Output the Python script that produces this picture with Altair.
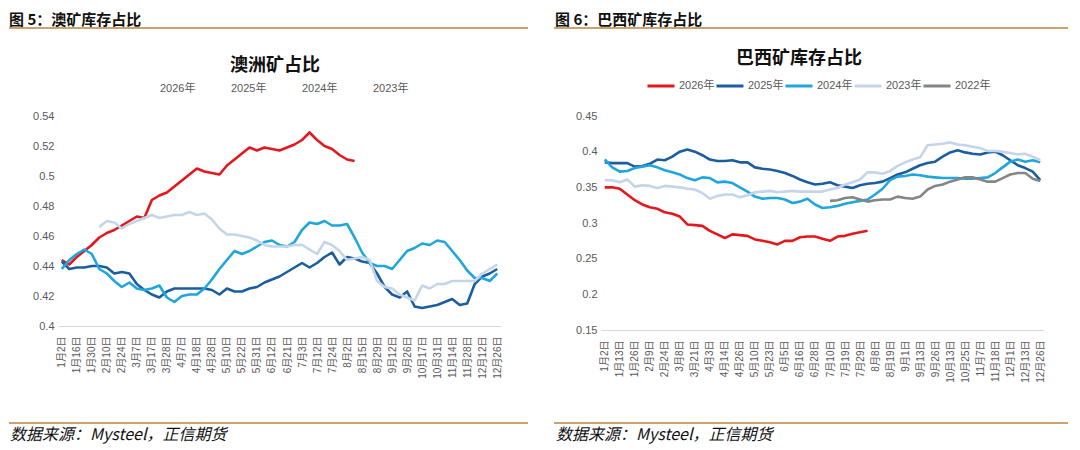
import altair as alt
import pandas as pd

# ---------------- data ----------------
x_labels_left = ["1月2日", "1月16日", "1月30日", "2月10日", "2月24日", "3月7日", "3月17日", "3月28日",
                 "4月7日", "4月18日", "4月28日", "5月10日", "5月22日", "5月31日", "6月12日", "6月21日",
                 "7月3日", "7月12日", "7月24日", "8月2日", "8月15日", "8月29日", "9月12日", "9月26日",
                 "10月17日", "10月31日", "11月14日", "11月28日", "12月12日", "12月26日"]
x_labels_right = ["1月2日", "1月13日", "1月26日", "2月9日", "2月24日", "3月8日", "3月21日", "4月3日",
                  "4月14日", "4月26日", "5月10日", "5月23日", "6月5日", "6月16日", "6月28日", "7月10日",
                  "7月19日", "7月29日", "8月8日", "8月19日", "9月1日", "9月13日", "9月26日", "10月13日",
                  "10月25日", "11月7日", "11月18日", "12月1日", "12月13日", "12月26日"]

y_ticks_left = [0.4, 0.42, 0.44, 0.46, 0.48, 0.5, 0.52, 0.54]
y_ticks_right = [0.15, 0.2, 0.25, 0.3, 0.35, 0.4, 0.45]

series_left = ["2026年", "2025年", "2024年", "2023年"]
series_right = ["2026年", "2025年", "2024年", "2023年", "2022年"]

# 澳洲矿占比
au_2026 = [0.444, 0.441, 0.446, 0.450, 0.454, 0.459, 0.462, 0.464, 0.467, 0.470,
           0.473, 0.472, 0.484, 0.487, 0.489, 0.493, 0.497, 0.501, 0.505, 0.503,
           0.502, 0.501, 0.507, 0.511, 0.515, 0.519, 0.517, 0.519, 0.518, 0.517,
           0.519, 0.521, 0.524, 0.529, 0.524, 0.520, 0.518, 0.514, 0.511, 0.510]
au_2025 = [0.443, 0.438, 0.439, 0.439, 0.440, 0.440, 0.439, 0.435, 0.436, 0.435,
           0.428, 0.424, 0.421, 0.419, 0.423, 0.425, 0.425, 0.425, 0.425, 0.425,
           0.424, 0.421, 0.425, 0.423, 0.423, 0.425, 0.426, 0.429, 0.431, 0.433,
           0.436, 0.439, 0.442, 0.439, 0.442, 0.446, 0.449, 0.441, 0.446, 0.445,
           0.443, 0.442, 0.435, 0.426, 0.421, 0.419, 0.423, 0.413, 0.412, 0.413,
           0.414, 0.416, 0.418, 0.414, 0.415, 0.428, 0.433, 0.435, 0.438]
au_2024 = [0.438, 0.444, 0.448, 0.451, 0.448, 0.438, 0.435, 0.430, 0.426, 0.429,
           0.425, 0.424, 0.425, 0.427, 0.419, 0.416, 0.420, 0.421, 0.421, 0.425,
           0.431, 0.438, 0.444, 0.450, 0.448, 0.450, 0.453, 0.456, 0.457, 0.454,
           0.453, 0.456, 0.464, 0.469, 0.468, 0.470, 0.467, 0.467, 0.468, 0.459,
           0.449, 0.442, 0.440, 0.440, 0.438, 0.444, 0.450, 0.452, 0.455, 0.454,
           0.457, 0.456, 0.450, 0.444, 0.437, 0.432, 0.432, 0.430, 0.435]
au_2023 = [None, None, None, None, None, 0.466, 0.470, 0.469, 0.465, 0.468,
           0.470, 0.472, 0.474, 0.472, 0.473, 0.474, 0.474, 0.476, 0.474, 0.475,
           0.471, 0.465, 0.461, 0.461, 0.460, 0.459, 0.457, 0.454, 0.453, 0.453,
           0.453, 0.454, 0.454, 0.451, 0.448, 0.456, 0.454, 0.450, 0.444, 0.445,
           0.446, 0.444, 0.430, 0.426, 0.425, 0.421, 0.419, 0.417, 0.427, 0.425,
           0.428, 0.428, 0.430, 0.430, 0.430, 0.430, 0.435, 0.438, 0.441]

# 巴西矿库存占比
br_2026 = [0.350, 0.350, 0.348, 0.340, 0.332, 0.326, 0.322, 0.320, 0.315, 0.313,
           0.309, 0.298, 0.297, 0.296, 0.289, 0.284, 0.279, 0.284, 0.283, 0.282,
           0.277, 0.275, 0.273, 0.270, 0.275, 0.275, 0.280, 0.281, 0.281, 0.278,
           0.275, 0.281, 0.282, 0.285, 0.287, 0.289]
br_2025 = [0.385, 0.384, 0.384, 0.384, 0.379, 0.380, 0.383, 0.389, 0.388, 0.393,
           0.400, 0.403, 0.400, 0.395, 0.389, 0.387, 0.387, 0.388, 0.385, 0.385,
           0.378, 0.376, 0.375, 0.373, 0.370, 0.366, 0.361, 0.357, 0.354, 0.355,
           0.357, 0.353, 0.351, 0.349, 0.353, 0.355, 0.356, 0.358, 0.363, 0.368,
           0.371, 0.376, 0.381, 0.384, 0.386, 0.393, 0.399, 0.402, 0.399, 0.397,
           0.396, 0.399, 0.400, 0.395, 0.388, 0.381, 0.377, 0.372, 0.360]
br_2024 = [0.389, 0.378, 0.372, 0.373, 0.377, 0.379, 0.381, 0.378, 0.374, 0.371,
           0.368, 0.363, 0.360, 0.364, 0.363, 0.357, 0.358, 0.356, 0.350, 0.344,
           0.337, 0.334, 0.335, 0.335, 0.333, 0.328, 0.330, 0.334, 0.326, 0.321,
           0.322, 0.324, 0.327, 0.329, 0.331, 0.333, 0.340, 0.348, 0.360, 0.365,
           0.366, 0.368, 0.367, 0.365, 0.364, 0.363, 0.363, 0.363, 0.362, 0.362,
           0.363, 0.364, 0.370, 0.378, 0.386, 0.389, 0.386, 0.388, 0.385]
br_2023 = [0.360, 0.360, 0.357, 0.361, 0.351, 0.353, 0.352, 0.349, 0.352, 0.351,
           0.350, 0.348, 0.347, 0.342, 0.334, 0.338, 0.340, 0.340, 0.336, 0.339,
           0.343, 0.344, 0.345, 0.343, 0.344, 0.345, 0.344, 0.344, 0.344, 0.344,
           0.347, 0.349, 0.354, 0.357, 0.361, 0.371, 0.371, 0.369, 0.373, 0.380,
           0.385, 0.389, 0.392, 0.409, 0.410, 0.411, 0.413, 0.410, 0.409, 0.407,
           0.405, 0.401, 0.401, 0.400, 0.398, 0.396, 0.397, 0.393, 0.388]
br_2022 = [None] * 30 + [0.331, 0.332, 0.335, 0.336, 0.333, 0.330, 0.332, 0.333, 0.333, 0.337,
                         0.335, 0.334, 0.337, 0.347, 0.352, 0.354, 0.358, 0.361, 0.364, 0.364,
                         0.361, 0.358, 0.358, 0.363, 0.368, 0.370, 0.370, 0.362, 0.359]

colors_left = ["#E3181C", "#1B5E9F", "#1FA6DC", "#C5D5E9"]
colors_right = ["#E3181C", "#1B5E9F", "#1FA6DC", "#C5D5E9", "#858585"]


def long_df(names, lists):
    rows = []
    for k, (name, vals) in enumerate(zip(names, lists)):
        for i, v in enumerate(vals):
            if v is not None:
                rows.append({"idx": i, "value": v, "series": name, "k": k})
    return pd.DataFrame(rows)


df_left = long_df(series_left, [au_2026, au_2025, au_2024, au_2023])
df_right = long_df(series_right, [br_2026, br_2025, br_2024, br_2023, br_2022])

LABEL_FONT = "Liberation Sans, Noto Sans CJK SC, sans-serif"
CJK_FONT = "Noto Sans CJK SC"
GOLD = "#C9A46C"
GRAY = "#595959"
dummy = pd.DataFrame({"a": [0]})
W = 443


def label_expr(labels):
    return "[" + ",".join("'" + s + "'" for s in labels) + "][round(datum.value / 2)]"


def panel(df, names, colors, labels, yticks, ydom, height, header, title, title_x, title_y,
          legend_x, legend_y, legend_pad, symbol_opacity, header_x, rule_x1, rule_x2, anchor=False):
    lines = alt.Chart(df).mark_line(strokeWidth=2.6, strokeJoin="round").encode(
        x=alt.X("idx:Q",
                scale=alt.Scale(domain=[-0.5, 58.5], nice=False, zero=False),
                axis=alt.Axis(values=list(range(0, 59, 2)), labelExpr=label_expr(labels),
                              labelAngle=270, labelFontSize=10, labelColor=GRAY, labelFont=LABEL_FONT,
                              ticks=False, grid=False, domainColor="#D9D9D9", domainWidth=1,
                              labelPadding=10, labelOverlap=False, title=None)),
        y=alt.Y("value:Q",
                scale=alt.Scale(domain=ydom, nice=False, zero=False),
                axis=alt.Axis(values=yticks, format="~g", labelFontSize=11, labelColor=GRAY,
                              labelFont=LABEL_FONT, ticks=False, grid=False, domain=False,
                              labelPadding=4, title=None)),
        color=alt.Color("series:N",
                        scale=alt.Scale(domain=names, range=colors),
                        legend=alt.Legend(orient="none", legendX=legend_x, legendY=legend_y,
                                          direction="horizontal", title=None, symbolType="stroke",
                                          symbolSize=729, symbolStrokeWidth=3,
                                          symbolOpacity=symbol_opacity,
                                          labelFontSize=11, labelColor=GRAY, labelFont=LABEL_FONT,
                                          labelOffset=3, columnPadding=legend_pad, padding=0)),
        order=alt.Order("k:Q"),
    ).properties(width=W, height=height)

    def text(t, x, y, size, weight="normal", style="normal", align="left", baseline="alphabetic", color="#111111"):
        return alt.Chart(dummy).mark_text(text=t, fontSize=size, fontWeight=weight, fontStyle=style,
                                          align=align, baseline=baseline, font=CJK_FONT, color=color).encode(
            x=alt.value(x), y=alt.value(y))

    def hrule(x1, x2, y):
        return alt.Chart(dummy).mark_rule(color=GOLD, strokeWidth=2).encode(
            x=alt.value(x1), x2=alt.value(x2), y=alt.value(y))

    def anchor_point(x, y):
        return alt.Chart(dummy).mark_rule(opacity=0).encode(
            x=alt.value(x), x2=alt.value(x), y=alt.value(y), y2=alt.value(y))

    layers = [
        lines,
        text(header, header_x, -91, 15, weight="bold"),
        hrule(rule_x1, rule_x2, -88),
        text(title, title_x, title_y, 18, weight="bold", align="center", baseline="middle"),
        hrule(rule_x1, rule_x2, 307),
        text("数据来源：Mysteel，正信期货", header_x + 1, 324, 16, style="italic"),
        anchor_point(0, 338),
    ]
    if anchor:
        layers.append(anchor_point(-50, -108))
    return alt.layer(*layers)


left = panel(df_left, series_left, colors_left, x_labels_left, y_ticks_left, [0.4, 0.54], 210,
             "图 5：澳矿库存占比", "澳洲矿占比", 217, -50,
             69, -42, 2, 0, -49, -49, 470, anchor=True)
right = panel(df_right, series_right, colors_right, x_labels_right, y_ticks_right, [0.15, 0.45], 214,
              "图 6：巴西矿库存占比", "巴西矿库存占比", 198, -57,
              45, -45, -7, 1, -46, -47, 467)

chart = alt.hconcat(left, right, spacing=100, bounds="flush").resolve_scale(
    color="independent").resolve_legend(color="independent").properties(
    padding=0, background="white").configure_view(stroke=None)

chart.save("out.html", embed_options={"renderer": "svg", "actions": False})
